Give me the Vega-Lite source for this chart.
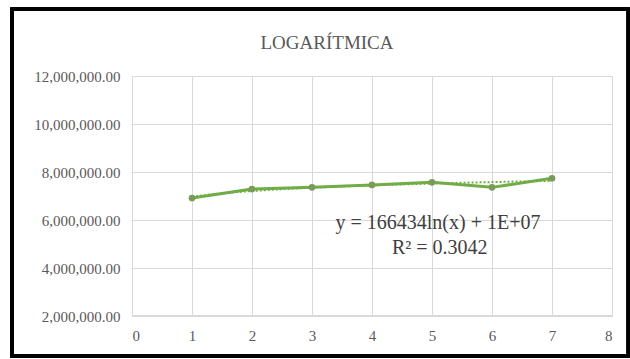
{
  "$schema": "https://vega.github.io/schema/vega-lite/v6.json",
  "autosize": {"type": "none"},
  "width": 480,
  "height": 240,
  "padding": {"left": 132, "top": 76, "right": 18, "bottom": 43},
  "background": "white",
  "title": {
    "text": "LOGARÍTMICA",
    "font": "'Liberation Serif', 'DejaVu Serif', serif",
    "fontSize": 19,
    "fontWeight": "normal",
    "color": "#595959",
    "anchor": "middle",
    "dx": -45,
    "offset": -45
  },
  "config": {
    "view": {"stroke": null},
    "axis": {
      "labelFont": "'Liberation Serif', 'DejaVu Serif', serif",
      "labelFontSize": 15,
      "labelColor": "#595959",
      "gridColor": "#d9d9d9",
      "gridWidth": 1,
      "ticks": false,
      "domain": false,
      "title": null
    }
  },
  "data": {
    "values": [
      {"x": 1, "y": 6917000},
      {"x": 2, "y": 7290000},
      {"x": 3, "y": 7360000},
      {"x": 4, "y": 7460000},
      {"x": 5, "y": 7570000},
      {"x": 6, "y": 7360000},
      {"x": 7, "y": 7740000}
    ]
  },
  "encoding": {
    "x": {
      "field": "x",
      "type": "quantitative",
      "scale": {"domain": [0, 8], "nice": false, "zero": false},
      "axis": {"values": [0,1,2,3,4,5,6,7,8], "labelPadding": 12, "grid": true}
    },
    "y": {
      "field": "y",
      "type": "quantitative",
      "scale": {"domain": [2000000, 12000000], "nice": false, "zero": false},
      "axis": {"values": [2000000,4000000,6000000,8000000,10000000,12000000], "format": ",.2f", "labelPadding": 12, "grid": true}
    }
  },
  "layer": [
    {
      "mark": {"type": "rect", "fill": null, "stroke": "#000000", "strokeWidth": 3, "clip": false},
      "encoding": {
        "x": {"datum": -2.0, "type": "quantitative"},
        "x2": {"datum": 8.27},
        "y": {"datum": 14790000, "type": "quantitative"},
        "y2": {"datum": 330000}
      }
    },
    {
      "mark": {"type": "rule", "color": "#d9d9d9", "strokeWidth": 1},
      "encoding": {
        "x": {"datum": 0, "type": "quantitative"},
        "x2": {"datum": 8},
        "y": {"datum": 2000000, "type": "quantitative"}
      }
    },
    {
      "transform": [{"regression": "y", "on": "x", "method": "log"}],
      "mark": {"type": "line", "color": "#70ad47", "strokeWidth": 2, "strokeDash": [2, 2]}
    },
    {
      "mark": {"type": "line", "color": "#70ad47", "strokeWidth": 3}
    },
    {
      "mark": {"type": "point", "filled": true, "color": "#7a9a5a", "size": 45, "opacity": 1}
    },
    {
      "data": {"values": [
        {"tx": 5.1, "ty": 5875000, "label": "y = 166434ln(x) + 1E+07"},
        {"tx": 5.13, "ty": 4833000, "label": "R² = 0.3042"}
      ]},
      "mark": {"type": "text", "font": "'Liberation Serif', 'DejaVu Serif', serif", "fontSize": 20, "color": "#404040", "align": "center", "baseline": "middle"},
      "encoding": {
        "x": {"field": "tx", "type": "quantitative"},
        "y": {"field": "ty", "type": "quantitative"},
        "text": {"field": "label"}
      }
    }
  ]
}
